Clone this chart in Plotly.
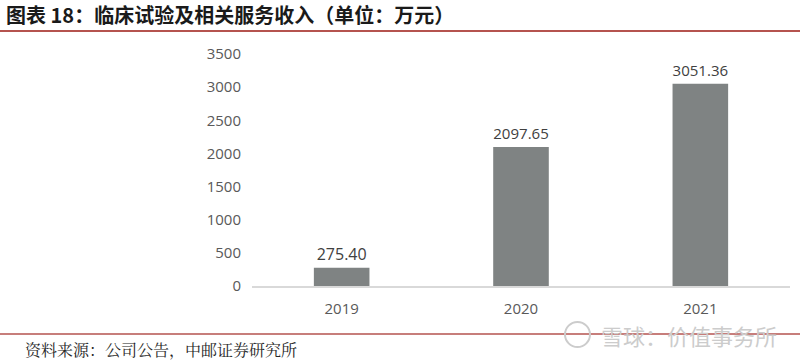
import plotly.graph_objects as go

categories = ["2019", "2020", "2021"]
values = [275.40, 2097.65, 3051.36]
value_labels = ["275.40", "2097.65", "3051.36"]
y_ticks = [0, 500, 1000, 1500, 2000, 2500, 3000, 3500]

W, H = 800, 364
L, R, T, B = 252, 10, 54, 78
pw, ph = W - L - R, H - T - B

def px_x(x):
    return (x - L) / pw

def px_y(y):
    return (H - B - y) / ph

num_font = "Open Sans, Noto Sans, sans-serif"

fig = go.Figure()
fig.add_trace(go.Bar(
    x=categories, y=values, text=value_labels, textposition="outside",
    marker=dict(color="#7f8383", line=dict(width=0)),
    textfont=dict(family=num_font, size=16, color="#404040"),
    cliponaxis=False, width=0.31, hoverinfo="skip",
))

fig.update_layout(
    width=W, height=H,
    margin=dict(l=L, r=R, t=T, b=B),
    paper_bgcolor="white", plot_bgcolor="white",
    showlegend=False,
    xaxis=dict(showgrid=False, showline=True, linecolor="#d9d9d9", linewidth=1.5,
               ticks="", tickfont=dict(family=num_font, size=15, color="#595959"),
               ticklabelstandoff=8),
    yaxis=dict(range=[0, 3500], tickvals=y_ticks, showgrid=False, zeroline=False,
               showline=False, ticks="",
               tickfont=dict(family=num_font, size=15, color="#595959"),
               ticklabelstandoff=10),
    font=dict(family="Noto Sans CJK SC"),
)

fig.add_annotation(text="<b>图表 18：临床试验及相关服务收入（单位：万元）</b>",
                   xref="paper", yref="paper", x=px_x(4), y=px_y(15),
                   xanchor="left", yanchor="middle", showarrow=False,
                   font=dict(family="Noto Sans CJK SC", size=20, color="#1a1a1a"))
fig.add_annotation(text="资料来源：公司公告，中邮证券研究所",
                   xref="paper", yref="paper", x=px_x(23), y=px_y(363),
                   xanchor="left", yanchor="bottom", showarrow=False,
                   font=dict(family="Noto Serif CJK SC, Noto Sans CJK SC", size=16, color="#262626"))
fig.add_annotation(text="雪球：价值事务所",
                   xref="paper", yref="paper", x=px_x(779), y=px_y(335),
                   xanchor="right", yanchor="middle", showarrow=False,
                   font=dict(family="Noto Sans CJK SC", size=22, color="#cccccc"))

fig.add_shape(type="line", xref="paper", yref="paper",
              x0=px_x(0), x1=px_x(800), y0=px_y(31), y1=px_y(31),
              line=dict(color="#b5534f", width=2))
fig.add_shape(type="line", xref="paper", yref="paper",
              x0=px_x(0), x1=px_x(800), y0=px_y(334), y1=px_y(334),
              line=dict(color="#b5534f", width=1.5))
fig.add_shape(type="circle", xref="paper", yref="paper",
              x0=px_x(565), x1=px_x(590), y0=px_y(347), y1=px_y(322),
              line=dict(color="#cccccc", width=2))

fig.write_html("out.html", config={"displayModeBar": False},
               post_script="document.body.style.margin='0';document.body.style.overflow='hidden';")
